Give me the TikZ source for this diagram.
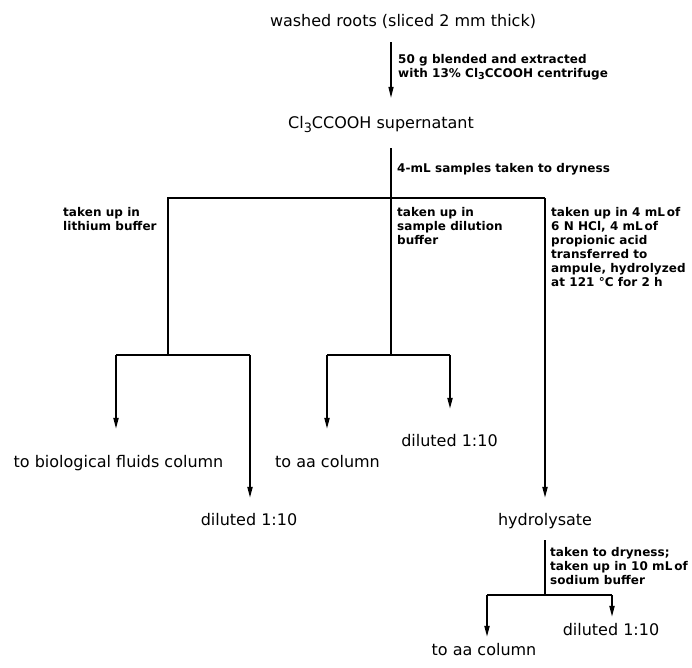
\documentclass[tikz,border=0pt]{standalone}
\usepackage{fontspec}
\setmainfont{DejaVu Sans}
\newfontfamily\labfont{DejaVu Sans}[LetterSpace=0.5]
\usetikzlibrary{arrows.meta}
\newcommand{\lowsub}[1]{\raisebox{-0.45ex}{\scalebox{0.8}{#1}}}
\newcommand{\mLof}{mL\hspace{0.15em}of}
\begin{document}
\begin{tikzpicture}[x=1pt,y=-1pt,
  big/.style={font=\fontsize{16}{19}\selectfont, inner sep=0pt, text height=12pt, text depth=3.8pt},
  lab/.style={font=\labfont\bfseries\fontsize{12}{14}\selectfont, inner sep=0pt, align=left, anchor=west},
  thinline/.style={line width=1.4pt},
  branch/.style={line width=1.8pt},
  arr/.style={-{Triangle[length=11pt,width=5pt]}}]
\useasboundingbox[fill=white] (0,0) rectangle (692,667);

% text nodes
\node[big] (washed) at (403,22) {washed roots (sliced 2 mm thick)};
\node[big] (super) at (381,124) {Cl\lowsub{3}CCOOH supernatant};
\node[big] (bio) at (118.5,463) {to biological fluids column};
\node[big] (aa1) at (327.5,463) {to aa column};
\node[big] (dil1) at (449.5,442) {diluted 1:10};
\node[big] (dil2) at (249,521) {diluted 1:10};
\node[big] (hydro) at (545,521) {hydrolysate};
\node[big] (dil3) at (611,631) {diluted 1:10};
\node[big] (aa2) at (484,651) {to aa column};

% annotations
\node[lab] (lab1) at (398,67) {50 g blended and extracted\\with 13\% Cl\lowsub{3}CCOOH centrifuge};
\node[lab] (lab2) at (397,169) {4-mL samples taken to dryness};
\node[lab] (labL) at (63,219) {taken up in\\lithium buffer};
\node[lab] (labM) at (397,226) {taken up in\\sample dilution\\buffer};
\node[lab] (labR) at (551,247.5) {taken up in 4 \mLof\\6 N HCl, 4 \mLof\\propionic acid\\transferred to\\ampule, hydrolyzed\\at 121 °C for 2 h};
\node[lab] (labH) at (550,566.5) {taken to dryness;\\taken up in 10 \mLof\\sodium buffer};

% junctions
\coordinate (J0) at (391,198);
\coordinate (JL) at (168,198);
\coordinate (JR) at (545,198);
\coordinate (JL2) at (168,355);
\coordinate (LL) at (116,355);
\coordinate (LR) at (250,355);
\coordinate (JM2) at (391,355);
\coordinate (ML) at (327,355);
\coordinate (MR) at (450,355);
\coordinate (JH) at (545,595);
\coordinate (HL) at (487,595);
\coordinate (HR) at (612,595);

% connectors
\draw[thinline,arr,shorten <=12pt,shorten >=18pt] (washed.south -| J0) -- (super.north -| J0);
\draw[thinline,shorten <=16pt] (super.south -| J0) -- (J0);
\draw[branch] (JL2) -- (JL) -- (JR);
\draw[branch] (J0) -- (JM2);
\draw[branch] (LL) -- (LR);
\draw[branch] (ML) -- (MR);
\draw[branch,arr,shorten >=26pt] (LL) -- (bio.north -| LL);
\draw[branch,arr,shorten >=15pt] (LR) -- (dil2.north -| LR);
\draw[branch,arr,shorten >=26pt] (ML) -- (aa1.north -| ML);
\draw[branch,arr,shorten >=25pt] (MR) -- (dil1.north -| MR);
\draw[branch,arr,shorten >=15pt] (JR) -- (hydro.north -| JR);
\draw[thinline,shorten <=11pt] (hydro.south -| JH) -- (JH);
\draw[branch] (HL) -- (HR);
\draw[branch,arr,shorten >=6pt] (HL) -- (aa2.north -| HL);
\draw[branch,arr,shorten >=6pt] (HR) -- (dil3.north -| HR);
\end{tikzpicture}
\end{document}
